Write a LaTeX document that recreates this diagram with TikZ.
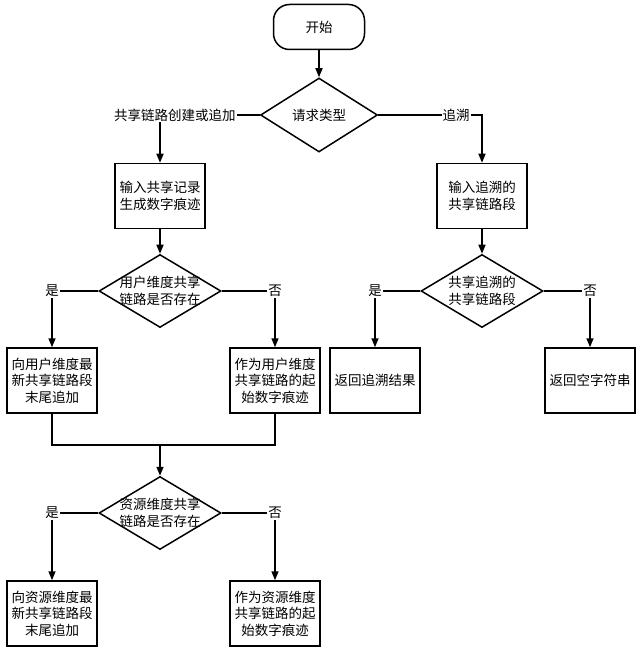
\documentclass[tikz,border=0pt]{standalone}
\usepackage{fontspec}
\setmainfont{Noto Sans CJK SC}
\usepackage{tikz}
\usetikzlibrary{shapes.geometric,arrows.meta}
\tikzstyle{terminal}=[rectangle, draw, rounded corners=16pt, line width=1.5pt, minimum width=91pt, minimum height=45pt]
\tikzstyle{process}=[rectangle, draw, line width=1.5pt, align=center, inner sep=0pt, minimum width=90pt, minimum height=65pt]
\tikzstyle{decision}=[diamond, draw, line width=1.5pt, inner sep=0pt, minimum width=122pt, minimum height=73pt]
\tikzstyle{branch}=[fill=white, inner sep=1pt]
\tikzstyle{flow}=[line width=1.5pt, -{Triangle[length=9pt,width=7pt]}]
\tikzstyle{wire}=[line width=1.5pt]

\begin{document}
\begin{tikzpicture}[x=1pt, y=-1pt, font=\fontsize{13.5}{16.5}\selectfont]
    \useasboundingbox (0,0) rectangle (636,652);

    % start and request type
    \node[terminal] (start) at (319,27) {开始};
    \node[decision, minimum width=117pt, minimum height=74pt] (reqtype) at (319,115) {请求类型};

    % the two input boxes
    \node[process] (record) at (160,196) {输入共享记录\\生成数字痕迹};
    \node[process] (traceinput) at (482,196) {输入追溯的\\共享链路段};

    % the three decisions
    \node[decision, label={[align=center]center:{用户维度共享\\链路是否存在}}] (userdim) at (160,291) {};
    \node[decision, label={[align=center]center:{共享追溯的\\共享链路段}}] (tracedim) at (482,291) {};
    \node[decision, label={[align=center]center:{资源维度共享\\链路是否存在}}] (resdim) at (160,513) {};

    % middle row of boxes
    \node[process] (useryes) at (52,380.5) {向用户维度最\\新共享链路段\\末尾追加};
    \node[process] (userno) at (275,380.5) {作为用户维度\\共享链路的起\\始数字痕迹};
    \node[process] (traceok) at (375,380.5) {返回追溯结果};
    \node[process] (traceempty) at (590,380.5) {返回空字符串};

    % bottom row of boxes
    \node[process] (resyes) at (52,613.5) {向资源维度最\\新共享链路段\\末尾追加};
    \node[process] (resno) at (275,613.5) {作为资源维度\\共享链路的起\\始数字痕迹};

    \coordinate (join) at (160,445);

    % connectors
    \draw[flow] (start) -- (reqtype);
    \draw[flow] (reqtype.west) -| node[branch, pos=0.426] {共享链路创建或追加} (record.north);
    \draw[flow] (reqtype.east) -| node[branch, pos=0.375] {追溯} (traceinput.north);
    \draw[flow] (record) -- (userdim);
    \draw[flow] (traceinput) -- (tracedim);
    \draw[flow] (userdim.west) -| node[branch, pos=0.5] {是} (useryes.north);
    \draw[flow] (userdim.east) -| node[branch, pos=0.5] {否} (userno.north);
    \draw[flow] (tracedim.west) -| node[branch, pos=0.5] {是} (traceok.north);
    \draw[flow] (tracedim.east) -| node[branch, pos=0.5] {否} (traceempty.north);
    \draw[wire] (useryes.south) |- (join) -| (userno.south);
    \draw[flow] (join) -- (resdim);
    \draw[flow] (resdim.west) -| node[branch, pos=0.5] {是} (resyes.north);
    \draw[flow] (resdim.east) -| node[branch, pos=0.5] {否} (resno.north);
\end{tikzpicture}
\end{document}
